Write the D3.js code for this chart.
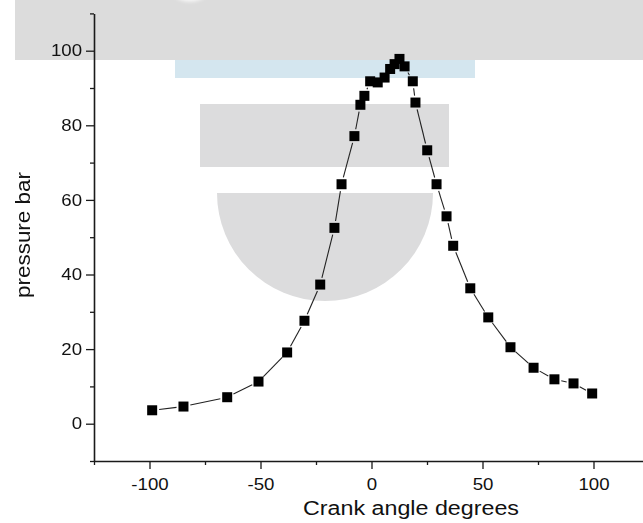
<!DOCTYPE html>
<html>
<head>
<meta charset="utf-8">
<script src="https://cdn.jsdelivr.net/npm/d3@7/dist/d3.min.js"></script>
<style>
  html, body { margin: 0; padding: 0; background: #fff; }
  svg { display: block; font-family: "Liberation Sans", Arial, sans-serif; }
</style>
</head>
<body>
<svg id="chart" width="643" height="523"></svg>
<script>
// Cylinder pressure against crank angle
const crankAngle = [-98.8, -84.7, -65.0, -50.9, -38.0, -30.2, -23.1, -16.7, -13.5, -7.7,
  -5.0, -3.2, -0.6, 2.8, 5.9, 8.4, 10.4, 12.6, 14.9, 18.6, 19.8,
  25.1, 29.3, 33.8, 36.8, 44.5, 52.6, 62.6, 73.0, 82.4, 91.0, 99.4];
const pressure = [3.6, 4.6, 7.1, 11.3, 19.1, 27.6, 37.3, 52.5, 64.2, 77.1,
  85.5, 87.9, 91.8, 91.5, 92.8, 95.1, 96.4, 97.8, 95.8, 91.8, 86.1,
  73.3, 64.2, 55.6, 47.7, 36.3, 28.5, 20.5, 15.0, 11.9, 10.8, 8.1];

const xMajor = [-100, -50, 0, 50, 100];
const xMinor = [-125, -75, -25, 25, 75, 125];
const yMajor = [0, 20, 40, 60, 80, 100];
const yMinor = [-10, 10, 30, 50, 70, 90, 110];

const xTitle = "Crank angle degrees";
const yTitle = "pressure bar";

const svg = d3.select("#chart");

const x = d3.scaleLinear().domain([-125, 125]).range([94, 649]);
const y = d3.scaleLinear().domain([-10, 110]).range([461, 13.4]);

// the labels use a slightly widened sans face
const widen = 1.13;
function widenText(sel) {
  sel.each(function () {
    const w = this.getComputedTextLength();
    d3.select(this).attr("textLength", w * widen).attr("lengthAdjust", "spacingAndGlyphs");
  });
}

// backdrop shapes
const defs = svg.append("defs");
defs.append("filter").attr("id", "soft")
  .append("feGaussianBlur").attr("stdDeviation", 0.7);
defs.append("filter").attr("id", "glow")
  .append("feGaussianBlur").attr("stdDeviation", 2);

const bg = svg.append("g").attr("filter", "url(#soft)");
bg.append("rect").attr("x", 15).attr("y", -5).attr("width", 640).attr("height", 65).attr("fill", "#dcdcdc");
bg.append("rect").attr("x", 175).attr("y", 60).attr("width", 300).attr("height", 18).attr("fill", "#d4e6ef");
bg.append("rect").attr("x", 200).attr("y", 104).attr("width", 249).attr("height", 63).attr("fill", "#dcdcdd");
bg.append("path")
  .attr("d", d3.arc()({innerRadius: 0, outerRadius: 108, startAngle: Math.PI / 2, endAngle: Math.PI * 1.5}))
  .attr("transform", "translate(325,193)")
  .attr("fill", "#dcdcdd");
svg.append("ellipse").attr("cx", 190).attr("cy", -17).attr("rx", 22).attr("ry", 18)
  .attr("fill", "#fff").attr("filter", "url(#glow)");

// axes
function styleAxis(g) {
  g.selectAll(".domain").attr("stroke", "#1a1a1a").attr("stroke-width", 1.6);
  g.selectAll(".tick line").attr("stroke", "#1a1a1a").attr("stroke-width", 1.3);
  g.selectAll("text").attr("fill", "#111").style("font-size", "16.5px")
    .style("font-family", "'Liberation Sans', Arial, sans-serif");
}

const gx = svg.append("g").attr("transform", `translate(0,${y(-10)})`)
  .call(d3.axisBottom(x).tickValues(xMajor).tickSize(8).tickSizeOuter(0).tickPadding(9)
    .tickFormat(d => String(d)));
styleAxis(gx);
svg.append("g").attr("transform", `translate(0,${y(-10)})`)
  .call(d3.axisBottom(x).tickValues(xMinor).tickSize(4).tickFormat(""))
  .call(g => { g.select(".domain").remove(); styleAxis(g); });

const gy = svg.append("g").attr("transform", `translate(${x(-125)},0)`)
  .call(d3.axisLeft(y).tickValues(yMajor).tickSize(8).tickSizeOuter(0).tickPadding(4)
    .tickFormat(d => String(d)));
styleAxis(gy);
svg.append("g").attr("transform", `translate(${x(-125)},0)`)
  .call(d3.axisLeft(y).tickValues(yMinor).tickSize(4).tickFormat(""))
  .call(g => { g.select(".domain").remove(); styleAxis(g); });

widenText(gx.selectAll(".tick text"));
widenText(gy.selectAll(".tick text"));

// axis titles
svg.append("text").attr("x", 411).attr("y", 515).attr("text-anchor", "middle")
  .style("font-size", "20px").attr("fill", "#111")
  .attr("textLength", 216).attr("lengthAdjust", "spacingAndGlyphs").text(xTitle);
svg.append("text").attr("transform", "translate(30,235) rotate(-90)").attr("text-anchor", "middle")
  .style("font-size", "20px").attr("fill", "#111")
  .attr("textLength", 126).attr("lengthAdjust", "spacingAndGlyphs").text(yTitle);

// connecting segments, stopping short of each marker
const pts = crankAngle.map((a, i) => [x(a), y(pressure[i])]);
const gap = 7;
const lines = svg.append("g");
for (let i = 0; i < pts.length - 1; i++) {
  const [x0, y0] = pts[i], [x1, y1] = pts[i + 1];
  const dx = x1 - x0, dy = y1 - y0, len = Math.hypot(dx, dy);
  if (len <= 2 * gap) continue;
  const ux = dx / len, uy = dy / len;
  lines.append("line")
    .attr("x1", x0 + ux * gap).attr("y1", y0 + uy * gap)
    .attr("x2", x1 - ux * gap).attr("y2", y1 - uy * gap)
    .attr("stroke", "#222").attr("stroke-width", 1.1);
}

// square markers
const ms = 10;
svg.append("g").selectAll("rect").data(pts).join("rect")
  .attr("x", d => d[0] - ms / 2).attr("y", d => d[1] - ms / 2)
  .attr("width", ms).attr("height", ms).attr("fill", "#000");
</script>
</body>
</html>
